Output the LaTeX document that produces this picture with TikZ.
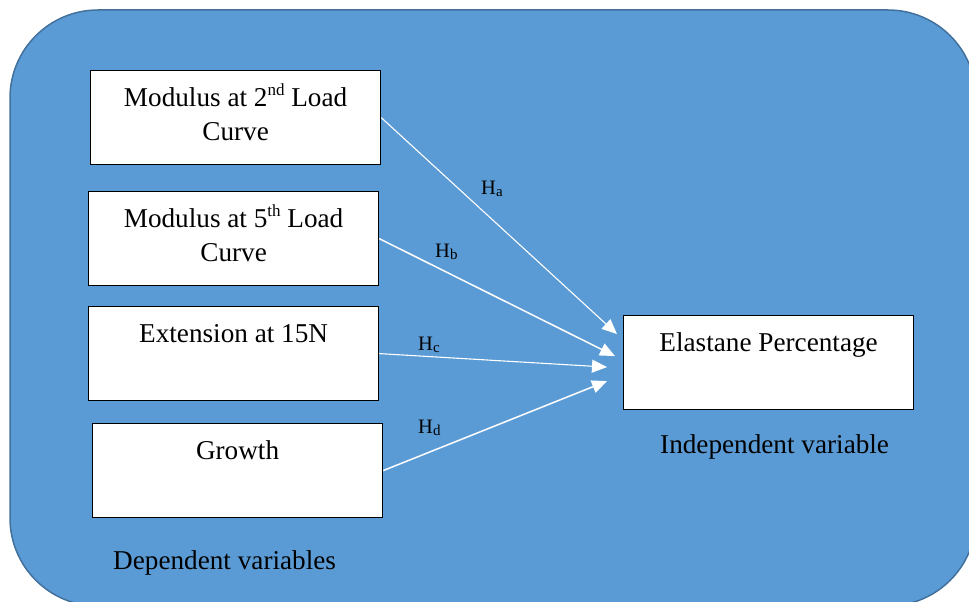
\documentclass[tikz,border=0pt]{standalone}
\usepackage{fontspec}
\setmainfont{Liberation Serif}
\usetikzlibrary{arrows.meta,calc}
\definecolor{panelblue}{HTML}{5B9BD5}
\definecolor{paneledge}{HTML}{41719C}

% box text: fixed-size parbox, first baseline 36pt below the top edge
\newcommand\vartext[1]{\parbox[c][94pt][t]{290pt}{\centering\rule{0pt}{36pt}#1}}
\newcommand\supsm[1]{\raisebox{0.4em}{\fontsize{17}{17}\selectfont #1}}

\begin{document}
\begin{tikzpicture}[x=1pt,y=-1pt,
  varbox/.style={draw=black, line width=1.2pt, fill=white, inner sep=0pt,
    anchor=north west, font=\fontsize{27.2}{34}\selectfont},
  link/.style={white, line width=1.1pt, -{Triangle[length=15pt,width=13pt]}},
  hyp/.style={font=\fontsize{20.5}{24}\selectfont, inner sep=0pt, anchor=base west},
  caption/.style={font=\fontsize{27.2}{30}\selectfont, inner sep=0pt, anchor=base west}]

  \useasboundingbox (0,0) rectangle (969,602);
  \clip (0,0) rectangle (969,602);

  % background panel
  \draw[fill=panelblue, draw=paneledge, line width=1.5pt, rounded corners=88pt]
    (10,10) rectangle (976,606);

  % dependent variables
  \node[varbox] (mod2) at (90,70)  {\vartext{Modulus at 2\supsm{nd} Load\\Curve}};
  \node[varbox] (mod5) at (88,191) {\vartext{Modulus at 5\supsm{th} Load\\Curve}};
  \node[varbox] (ext)  at (88,306) {\vartext{Extension at 15N}};
  \node[varbox] (grow) at (92,423) {\vartext{Growth}};

  % independent variable
  \node[varbox] (elas) at (623,315) {\vartext{Elastane Percentage}};

  % arrow tips in front of the independent variable
  \coordinate (ta) at ($(elas.west)+(-6,-28.5)$);
  \coordinate (tb) at ($(elas.west)+(-8,-6.5)$);
  \coordinate (tc) at ($(elas.west)+(-16,4.5)$);
  \coordinate (td) at ($(elas.west)+(-16,18.5)$);

  \draw[link] (mod2.east) -- (ta);
  \draw[link, line width=1.5pt] (mod5.east) -- (tb);
  \draw[link] (ext.east) -- (tc);
  \draw[link, line width=1.5pt] (grow.east) -- (td);

  % hypothesis labels
  \node[hyp] (ha) at (481,194) {H\raisebox{-0.12em}{\fontsize{15}{15}\selectfont a}};
  \node[hyp] (hb) at (435,257) {H\raisebox{-0.12em}{\fontsize{15}{15}\selectfont b}};
  \node[hyp] (hc) at (418,350) {H\raisebox{-0.12em}{\fontsize{15}{15}\selectfont c}};
  \node[hyp] (hd) at (418,433) {H\raisebox{-0.12em}{\fontsize{15}{15}\selectfont d}};

  % group captions
  \node[caption] (dep) at (113,569) {Dependent variables};
  \node[caption] (ind) at (660,453) {Independent variable};
\end{tikzpicture}
\end{document}
